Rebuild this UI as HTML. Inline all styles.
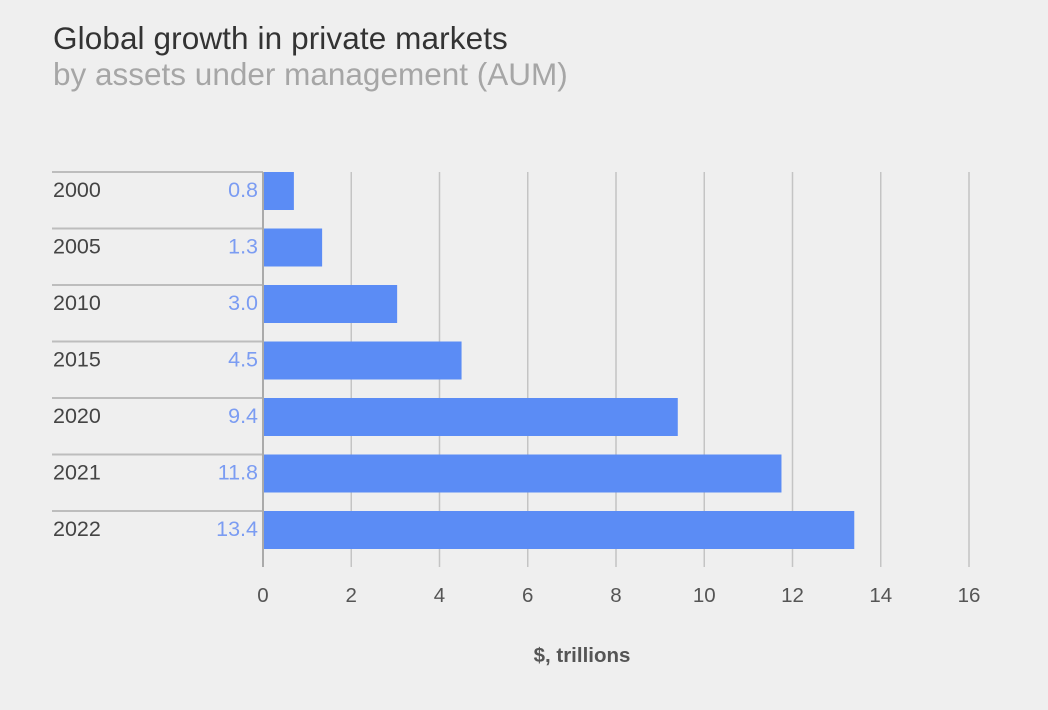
<!DOCTYPE html>
<html><head><meta charset="utf-8"><style>
body{margin:0;background:#efefef;font-family:"Liberation Sans",sans-serif;}
#wrap{position:relative;width:1048px;height:710px;overflow:hidden;background:#efefef}
.t1{position:absolute;left:53px;top:20px;font-size:31.5px;color:#333;letter-spacing:0.1px}
.t2{position:absolute;left:53px;top:56px;font-size:31.5px;color:#a6a6a6;letter-spacing:0px}
</style></head><body>
<div id="wrap">
<div class="t1">Global growth in private markets</div>
<div class="t2">by assets under management (AUM)</div>
<svg id="c" width="1048" height="710" style="position:absolute;left:0;top:0"></svg>
</div>
<script>
const categories=["2000","2005","2010","2015","2020","2021","2022"];
const values=[0.7,1.34,3.04,4.5,9.4,11.75,13.4];
const valueLabels=["0.8","1.3","3.0","4.5","9.4","11.8","13.4"];
const ticks=[0,2,4,6,8,10,12,14,16];
const svg=document.getElementById('c');
const NS='http://www.w3.org/2000/svg';
const x0=263,x1=969,xmax=16;
const X=v=>x0+(x1-x0)*v/xmax;
const rowTop=172,rowH=56.5,barH=38;
const Y=i=>rowTop+i*rowH;
function mk(t,a){const e=document.createElementNS(NS,t);for(const k in a)e.setAttribute(k,a[k]);svg.appendChild(e);return e;}
ticks.forEach(t=>{
  if(t>0){const g=mk('line',{x1:X(t),x2:X(t),y1:172,y2:567,stroke:'#c4c4c4','stroke-width':1.5});
  
  }
  const l=mk('text',{x:X(t),y:602,'text-anchor':'middle','font-size':20.5,fill:'#555'});l.textContent=t;
  
  
});
categories.forEach((c,i)=>{
  const y=Y(i);
  const s=mk('line',{x1:52,x2:x0,y1:y,y2:y,stroke:'#bdbdbd','stroke-width':2});
  
  
  const b=mk('rect',{x:x0,y:y,width:X(values[i])-x0,height:barH,fill:'#5b8cf5'});
  
  
  const cl=mk('text',{x:53,y:y+25,'font-size':21.5,fill:'#444'});cl.textContent=c;
  
  
  const vl=mk('text',{x:258,y:y+25,'text-anchor':'end','font-size':21.5,fill:'#7b9cf2'});vl.textContent=valueLabels[i];
  
  
});
const ax=mk('line',{x1:x0,x2:x0,y1:172,y2:567,stroke:'#aaa','stroke-width':2});


const at=mk('text',{x:582,y:662,'text-anchor':'middle','font-size':20.5,'font-weight':'bold',fill:'#555'});at.textContent='$, trillions';


</script>
</body></html>
